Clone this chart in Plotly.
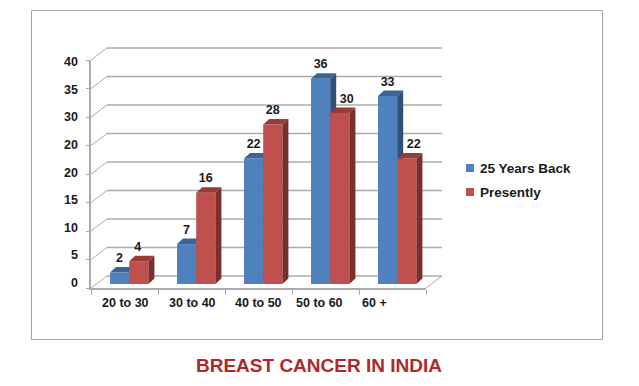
import plotly.graph_objects as go

categories = ["20 to 30", "30 to 40", "40 to 50", "50 to 60", "60 +"]
back_values = [2, 7, 22, 36, 33]
present_values = [4, 16, 28, 30, 22]
y_tick_values = [0, 5, 10, 15, 20, 25, 30, 35, 40]
y_tick_labels = ["0", "5", "10", "15", "20", "20", "30", "35", "40"]
series_names = ["25 Years Back", "Presently"]
title_text = "BREAST CANCER IN INDIA"

W, H = 639, 386
PX0, PX1, PY0, PY1 = 91, 426, 288, 60      # plot box in pixels
xu = (PX1 - PX0) / 5
yu = (PY0 - PY1) / 40
GRID = "#ABABAB"
FONT = "Liberation Sans"
TXT = "#1a1a1a"
WALL_DX, WALL_DY = 16, 12
# red data labels sitting right of the taller blue bar's side face (pixels)
RED_LABEL_SHIFT = [-1, 0, 0, 7, 7]


def xd(px):  # pixel length -> x data units
    return px / xu


def yd(px):  # pixel length -> y data units
    return px / yu


def paper_x(v):  # x data value -> paper
    return (PX0 + v * xu) / W


def paper_y(v):  # y data value -> paper
    return 1 - (PY0 - v * yu) / H


bar_base = yd(4)
bar_w = xd(19.2)
bar_off = xd(19)
side_dx, side_dy = xd(6), yd(5.5)
label_gap = yd(13.5)


def faces(starts, values):
    sx, sy, tx, ty = [], [], [], []
    for x0, v in zip(starts, values):
        x1 = x0 + bar_w
        top = v + bar_base
        sx += [x1, x1 + side_dx, x1 + side_dx, x1, x1, None]
        sy += [bar_base, bar_base + side_dy, top + side_dy, top, bar_base, None]
        tx += [x0, x0 + side_dx, x1 + side_dx, x1, x0, None]
        ty += [top, top + side_dy, top + side_dy, top, top, None]
    return sx, sy, tx, ty


idx = list(range(len(categories)))
blue_x = [i + bar_off for i in idx]
red_x = [i + bar_off + bar_w for i in idx]

fig = go.Figure()


def add_series(starts, values, name, front, side, top, xa, ya):
    sx, sy, tx, ty = faces(starts, values)
    fig.add_trace(go.Bar(x=starts, y=values, base=[bar_base] * len(values), width=bar_w,
                         offset=0, marker=dict(color=front, line=dict(width=0)),
                         name=name, xaxis=xa, yaxis=ya, showlegend=False))
    fig.add_trace(go.Scatter(x=sx, y=sy, mode="lines", fill="toself", fillcolor=side,
                             line=dict(width=0, color=side), xaxis=xa, yaxis=ya,
                             showlegend=False, hoverinfo="skip", cliponaxis=False))
    fig.add_trace(go.Scatter(x=tx, y=ty, mode="lines", fill="toself", fillcolor=top,
                             line=dict(width=0, color=top), xaxis=xa, yaxis=ya,
                             showlegend=False, hoverinfo="skip", cliponaxis=False))


add_series(blue_x, back_values, series_names[0], "#4F81BD", "#2F5179", "#3A6596", "x", "y")
add_series(red_x, present_values, series_names[1], "#C0504D", "#7B2F2D", "#983C3A", "x2", "y2")

fig.add_trace(go.Scatter(
    x=[s + bar_w / 2 for s in blue_x]
      + [s + bar_w / 2 + xd(d) for s, d in zip(red_x, RED_LABEL_SHIFT)],
    y=[v + bar_base + label_gap for v in back_values + present_values],
    text=[f"<b>{v}</b>" for v in back_values + present_values],
    mode="text", textposition="middle center", cliponaxis=False,
    textfont=dict(family=FONT, size=12.5, color=TXT),
    xaxis="x2", yaxis="y2", showlegend=False, hoverinfo="skip"))

shapes = []
wx, wy = WALL_DX / W, WALL_DY / H
# back wall, floor and left-hand diagonals
for v in y_tick_values:
    yp = paper_y(v)
    shapes.append(dict(type="line", xref="paper", yref="paper", layer="below",
                       x0=paper_x(0) + wx, x1=paper_x(5) + wx, y0=yp + wy, y1=yp + wy,
                       line=dict(color=GRID, width=1.6)))
    shapes.append(dict(type="line", xref="paper", yref="paper", layer="below",
                       x0=paper_x(0), x1=paper_x(0) + wx, y0=yp, y1=yp + wy,
                       line=dict(color=GRID, width=1)))
shapes.append(dict(type="line", xref="paper", yref="paper", layer="below",
                   x0=paper_x(5), x1=paper_x(5) + wx, y0=paper_y(0), y1=paper_y(0) + wy,
                   line=dict(color=GRID, width=1)))
# outer frame
shapes.append(dict(type="rect", xref="paper", yref="paper",
                   x0=31.5 / W, x1=602.5 / W, y0=1 - 339.5 / H, y1=1 - 10.5 / H,
                   line=dict(color="#A6A6A6", width=1), layer="below"))
# legend swatches
for yp, col in zip([168, 192], ["#4F81BD", "#C0504D"]):
    shapes.append(dict(type="rect", xref="paper", yref="paper",
                       x0=466 / W, x1=474 / W, y0=1 - (yp + 4) / H, y1=1 - (yp - 4) / H,
                       fillcolor=col, line=dict(width=0)))

annotations = []
bold = dict(family=FONT, size=12.5, color=TXT)
# x labels (centres)
for lab, cx in zip(categories, [126, 192, 258, 319, 374]):
    annotations.append(dict(text=f"<b>{lab}</b>", xref="paper", yref="paper",
                            x=cx / W, y=1 - 303 / H, showarrow=False, font=bold,
                            xanchor="center", yanchor="middle"))
# y labels
for i, lab in enumerate(y_tick_labels):
    py = 283 - i * (283 - 62) / 8
    annotations.append(dict(text=f"<b>{lab}</b>", xref="paper", yref="paper",
                            x=80.5 / W, y=1 - py / H, showarrow=False, font=bold,
                            xanchor="right", yanchor="middle"))
# legend text
for name, yp in zip(series_names, [168, 192]):
    annotations.append(dict(text=f"<b>{name}</b>", xref="paper", yref="paper",
                            x=477.5 / W, y=1 - yp / H, showarrow=False,
                            font=dict(family=FONT, size=13.5, color=TXT),
                            xanchor="left", yanchor="middle"))
annotations.append(dict(text=f"<b>{title_text}</b>", xref="paper", yref="paper",
                        x=319 / W, y=1 - 365 / H, showarrow=False,
                        font=dict(family=FONT, size=19, color="#AE2A2A"),
                        xanchor="center", yanchor="middle"))

dom_x = [PX0 / W, PX1 / W]
dom_y = [1 - PY0 / H, 1 - PY1 / H]
fig.update_layout(
    width=W, height=H, autosize=False, margin=dict(l=0, r=0, t=0, b=0),
    paper_bgcolor="white", plot_bgcolor="rgba(0,0,0,0)", showlegend=False,
    barmode="overlay", shapes=shapes, annotations=annotations,
    xaxis=dict(domain=dom_x, range=[0, 5], tickmode="array", tickvals=[0, 1, 2, 3, 4, 5],
               showticklabels=False, ticks="outside", ticklen=5, tickcolor=GRID, tickwidth=1,
               showline=True, linecolor=GRID, linewidth=1.5, showgrid=False, zeroline=False),
    yaxis=dict(domain=dom_y, range=[0, 40], tickmode="array", tickvals=y_tick_values,
               showticklabels=False, ticks="outside", ticklen=3, tickcolor=GRID, tickwidth=1,
               showline=True, linecolor=GRID, linewidth=2, showgrid=False, zeroline=False),
    xaxis2=dict(domain=dom_x, range=[0, 5], overlaying="x", anchor="y2", visible=False),
    yaxis2=dict(domain=dom_y, range=[0, 40], overlaying="y", anchor="x2", visible=False),
)
fig.write_html("out.html", config=dict(displayModeBar=False),
               post_script="document.body.style.margin='0';")
